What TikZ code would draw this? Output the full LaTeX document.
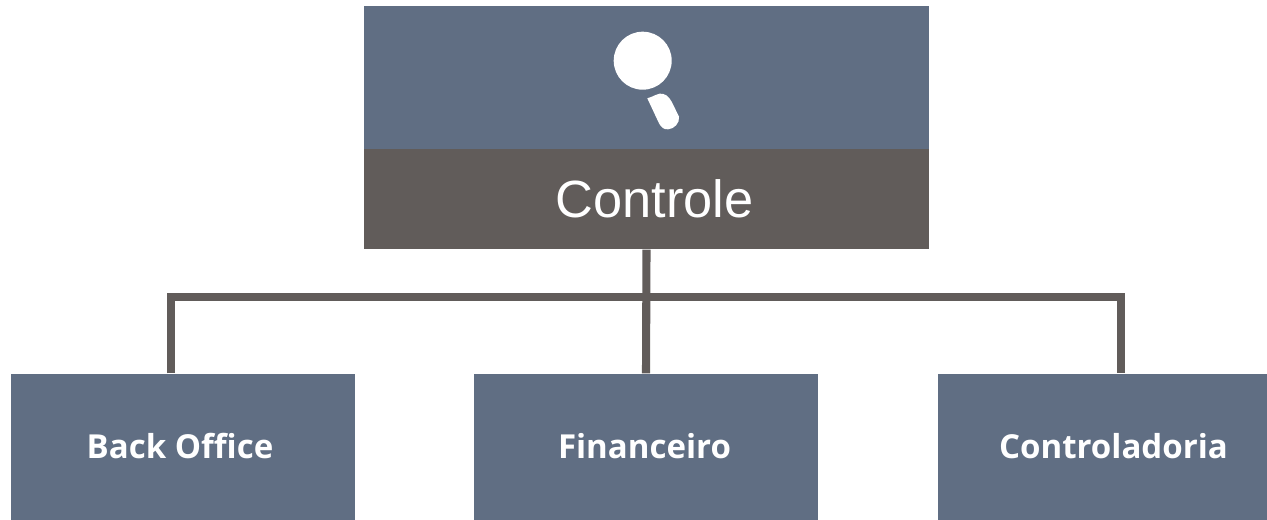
\documentclass[tikz,border=0pt]{standalone}
\usepackage{fontspec}
\setmainfont{Liberation Sans}
\newfontfamily\deptfont{Open Sans}
\definecolor{slateblue}{RGB}{96,110,131}
\definecolor{stonegray}{RGB}{97,92,90}
\tikzset{
    headbox/.style={fill=slateblue, inner sep=0, minimum width=5.65cm, minimum height=1.43cm},
    titlebox/.style={fill=stonegray, inner sep=0, minimum width=5.65cm, minimum height=1cm},
    titlelabel/.style={text=white, inner sep=0, font=\fontsize{14.9}{16}\selectfont},
    deptbox/.style={fill=slateblue, inner sep=0, minimum height=1.46cm},
    deptlabel/.style={text=white, inner sep=0, font=\deptfont\bfseries\fontsize{9.4}{11}\selectfont},
    bus/.style={stonegray, line width=2.3pt}
}
\begin{document}
\begin{tikzpicture}
    \useasboundingbox (0,0) rectangle (12.67,5.20);

    \node[headbox] (head) at (6.465,4.425) {};
    \node[titlebox] (controle) at (6.465,3.21) {};
    \node[titlelabel] (controlelabel) at (6.545,3.21) {Controle};

    \node[deptbox, minimum width=3.44cm] (backoffice) at (1.83,0.73) {};
    \node[deptbox, minimum width=3.44cm] (financeiro) at (6.46,0.73) {};
    \node[deptbox, minimum width=3.29cm] (controladoria) at (11.025,0.73) {};

    \node[deptlabel] (backofficelabel) at (1.80,0.74) {Back Office};
    \node[deptlabel] (financeirolabel) at (6.445,0.74) {Financeiro};
    \node[deptlabel] (controladorialabel) at (11.135,0.74) {Controladoria};

    % bus between the head and the three boxes
    \coordinate (busleft) at (1.71,2.23);
    \coordinate (busright) at (11.21,2.23);
    \draw[bus] (backoffice.north -| busleft) -- (busleft) -- (busright) -- (controladoria.north -| busright);
    \draw[bus] (controle.south) -- (financeiro.north);

    % magnifier
    \fill[white] (6.427,4.593) circle (0.29);
    \fill[white] (6.473,4.217) .. controls (6.53,4.23) and (6.59,4.28) .. (6.633,4.26)
        .. controls (6.68,4.25) and (6.71,4.20) .. (6.733,4.15)
        -- (6.79,4.033) .. controls (6.80,3.97) and (6.74,3.91) .. (6.683,3.907)
        .. controls (6.64,3.90) and (6.61,3.93) .. (6.59,3.967) -- cycle;
\end{tikzpicture}
\end{document}
